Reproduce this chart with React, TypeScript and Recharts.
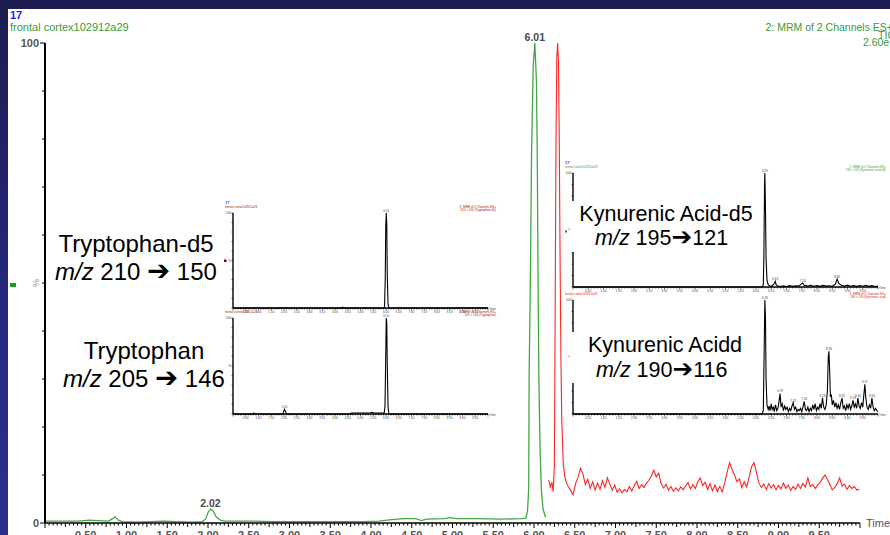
import { LineChart, Line, XAxis, YAxis, ReferenceDot } from "recharts";

type Pt = [number, number];

// main TIC, channel shown in green: time (min), % of base peak
const ticGreen: Pt[] = [
  [0, 0.4], [0.2, 0.4], [0.4, 0.4], [0.55, 0.6], [0.65, 0.5],
  [0.78, 0.4], [0.83, 0.9], [0.86, 1.3], [0.9, 0.6], [0.95, 0.3],
  [1.1, 0.2], [1.3, 0.3], [1.45, 0.4], [1.6, 0.3], [1.8, 0.2],
  [1.93, 0.3], [1.97, 0.8], [2.0, 2.2], [2.03, 2.9], [2.06, 2.6],
  [2.1, 1.3], [2.15, 0.6], [2.2, 0.4], [2.5, 0.4], [2.8, 0.3],
  [3.2, 0.3], [3.6, 0.3], [3.9, 0.3], [4.1, 0.4], [4.25, 0.7],
  [4.4, 0.9], [4.55, 0.9], [4.62, 0.5], [4.68, 0.8], [4.9, 0.9],
  [4.97, 1.1], [5.05, 0.9], [5.3, 0.9], [5.6, 0.8], [5.85, 0.9],
  [5.9, 1.0], [5.92, 2.5], [5.935, 7], [5.94, 30], [5.955, 50],
  [5.97, 77], [5.99, 95], [6.01, 100], [6.03, 92], [6.04, 77],
  [6.05, 50], [6.06, 30], [6.075, 15], [6.09, 7], [6.11, 3], [6.14, 1.2],
];

// red channel, kynurenic acid peak
const ticRedPeak: Pt[] = [
  [6.18, 9], [6.2, 7.5], [6.22, 8.5], [6.235, 6.5], [6.25, 12],
  [6.26, 45], [6.27, 80], [6.28, 97], [6.29, 100], [6.3, 96],
  [6.31, 80], [6.32, 55], [6.33, 35], [6.34, 22], [6.36, 12],
  [6.38, 9.5], [6.4, 8.3],
];

// red baseline after the peak, one reading per scan
const redScanStart = 6.42;
const redScanStep = 0.03;
const ticRedTail = [
  7.6, 6.8, 5.9, 8.2, 9.5, 11.4, 10.2, 8.0, 9.1, 7.2,
  8.6, 6.9, 8.3, 7.0, 8.8, 7.4, 9.4, 8.1, 6.8, 7.9,
  6.4, 7.1, 6.3, 7.0, 6.5, 7.6, 6.6, 7.8, 8.7, 7.2,
  8.0, 7.4, 8.3, 8.9, 9.8, 11.0, 9.6, 10.4, 8.2, 7.3,
  8.1, 6.8, 7.6, 6.6, 7.3, 6.7, 7.5, 6.9, 7.7, 8.4,
  7.1, 8.0, 7.2, 8.6, 9.4, 7.8, 8.5, 7.0, 8.2, 6.7,
  7.9, 6.5, 7.6, 6.5, 8.4, 10.6, 12.6, 11.2, 10.0, 8.6,
  9.2, 7.4, 8.6, 7.5, 9.6, 11.8, 12.6, 10.5, 8.3, 7.4,
  8.1, 7.0, 8.2, 7.3, 8.0, 6.9, 7.8, 7.1, 8.3, 7.2,
  7.9, 6.8, 7.6, 7.0, 8.1, 7.2, 8.2, 7.5, 9.4, 7.6,
  8.0, 7.2, 7.9, 8.4, 9.3, 10.0, 9.1, 8.0, 6.9, 7.4,
  8.2, 9.4, 7.7, 8.1, 7.0, 7.8, 7.2, 7.6, 6.9, 7.0,
];

// inset chromatograms
const trpD5: Pt[] = [
  [0, 0], [4.25, 0], [4.3, 0.8], [4.35, 0], [5.94, 0], [5.97, 30],
  [5.99, 85], [6.01, 100], [6.03, 88], [6.05, 35], [6.08, 4], [6.11, 0], [10, 0],
];
const trp: Pt[] = [
  [0, 0], [0.78, 0], [0.82, 1], [0.86, 0], [1.95, 0], [1.99, 3], [2.02, 5],
  [2.05, 3], [2.1, 0], [4.6, 0], [4.65, 1], [5.4, 1], [5.45, 1.8], [5.5, 1],
  [5.93, 1], [5.96, 8], [5.99, 60], [6.01, 100], [6.03, 95], [6.05, 50],
  [6.08, 8], [6.11, 0], [10, 0],
];
const kynD5: Pt[] = [
  [0, 0], [6.2, 0], [6.24, 2], [6.26, 30], [6.28, 90], [6.29, 100], [6.31, 70],
  [6.33, 25], [6.36, 6], [6.4, 2], [6.45, 1], [6.5, 0.5], [6.55, 1.5], [6.6, 3],
  [6.63, 5], [6.66, 2], [6.7, 1], [6.8, 0.5], [6.9, 1], [7.0, 0.5], [7.1, 1.2],
  [7.2, 0.6], [7.3, 1], [7.4, 0.8], [7.48, 2.5], [7.53, 3.5], [7.58, 1.5],
  [7.7, 0.8], [7.8, 1.5], [7.9, 0.7], [8.0, 1.2], [8.1, 0.6], [8.2, 1.4],
  [8.3, 0.8], [8.4, 1.1], [8.5, 0.6], [8.6, 2.5], [8.66, 7], [8.72, 3],
  [8.8, 1.5], [8.9, 0.8], [9.0, 1.6], [9.1, 0.7], [9.2, 1.2], [9.3, 0.6],
  [9.4, 1.3], [9.5, 0.7], [9.6, 1.5], [9.7, 0.6], [9.8, 1.2], [9.9, 0.5], [10, 0.8],
];
const kyn: Pt[] = [
  [0, 0], [6.2, 0], [6.24, 3], [6.27, 60], [6.29, 100], [6.31, 85], [6.33, 30],
  [6.36, 8], [6.4, 4], [6.43, 7], [6.46, 3], [6.5, 9], [6.53, 4], [6.57, 6],
  [6.6, 2], [6.64, 8], [6.68, 3], [6.72, 5], [6.76, 12], [6.79, 18], [6.82, 6],
  [6.86, 9], [6.9, 3], [6.94, 7], [6.98, 4], [7.02, 6], [7.06, 2], [7.1, 5],
  [7.14, 3], [7.18, 7], [7.22, 10], [7.26, 4], [7.3, 6], [7.34, 2], [7.38, 4],
  [7.42, 3], [7.46, 5], [7.5, 2], [7.54, 6], [7.58, 11], [7.62, 4], [7.66, 3],
  [7.7, 6], [7.74, 2], [7.78, 5], [7.82, 3], [7.86, 8], [7.9, 4], [7.94, 9],
  [7.98, 3], [8.02, 6], [8.06, 4], [8.1, 9], [8.14, 5], [8.18, 14], [8.22, 6],
  [8.26, 4], [8.3, 8], [8.34, 20], [8.37, 50], [8.39, 55], [8.41, 42], [8.44, 15],
  [8.47, 17], [8.5, 8], [8.54, 12], [8.58, 6], [8.62, 10], [8.66, 5], [8.7, 8],
  [8.74, 4], [8.78, 10], [8.82, 14], [8.86, 5], [8.9, 7], [8.94, 3], [8.98, 8],
  [9.02, 5], [9.06, 9], [9.1, 4], [9.14, 7], [9.18, 12], [9.22, 6], [9.26, 9],
  [9.3, 5], [9.34, 14], [9.38, 7], [9.42, 5], [9.46, 10], [9.5, 6], [9.54, 18],
  [9.57, 26], [9.6, 14], [9.64, 6], [9.68, 4], [9.72, 8], [9.76, 5], [9.8, 14],
  [9.84, 6], [9.88, 3], [9.92, 5], [9.96, 3], [10, 2],
];

// labelled apexes (time, %)
const mainPeaks: Pt[] = [[6.01, 100], [2.03, 2.9]];
const mainPeakText = ["6.01", "2.02"];
const trpD5Peaks: Pt[] = [[6.01, 100]];
const trpPeaks: Pt[] = [[6.01, 100], [2.02, 5]];
const kynD5Peaks: Pt[] = [[6.29, 100], [6.63, 5], [7.53, 3.5], [8.66, 7]];
const kynPeaks: Pt[] = [
  [6.29, 100], [6.79, 18], [7.22, 10], [7.58, 11], [8.18, 14], [8.39, 55],
  [8.82, 14], [9.18, 12], [9.34, 14], [9.57, 26], [9.8, 14],
];

const mainXTicks = Array.from({ length: 201 }, (_, i) => i / 20);
const insetXTicks = Array.from({ length: 101 }, (_, i) => i / 10);
const yTicks = [0, 10, 20, 30, 40, 50, 60, 70, 80, 90, 100];

const toRows = (pts: Pt[]) => pts.map(([t, v]) => ({ t, v }));
const greenRows = toRows(ticGreen);
const redRows = [
  ...toRows(ticRedPeak),
  ...ticRedTail.map((v, i) => ({ t: Math.round((redScanStart + i * redScanStep) * 1000) / 1000, v })),
];

const FONT = "'Liberation Sans', Arial, sans-serif";
const GREEN = "#43a843";
const RED = "#ff2626";
const AXIS_TXT = "#555";

const renderMainXTick = (p: any) => {
  const { x, y, payload } = p;
  const k = Math.round(payload.value * 20);
  const len = k % 10 === 0 ? 5 : k % 5 === 0 ? 4 : 2.5;
  return (
    <g>
      <line x1={x} x2={x} y1={y} y2={y + len} stroke="#000" strokeWidth={1} />
      {k % 10 === 0 && k > 0 && k < 200 && (
        <text x={x} y={y + 16} textAnchor="middle" fontSize={11} fontWeight="bold" fill={AXIS_TXT}>
          {(k / 20).toFixed(2)}
        </text>
      )}
    </g>
  );
};

const renderMainYTick = (p: any) => {
  const { x, y, payload } = p;
  const v = payload.value;
  const end = v === 0 || v === 100;
  return (
    <g>
      <line x1={x - (end ? 5 : 3)} x2={x} y1={y} y2={y} stroke="#000" strokeWidth={1} />
      {end && (
        <text x={x - 6} y={y + 4} textAnchor="end" fontSize={11} fontWeight="bold" fill={AXIS_TXT}>
          {v}
        </text>
      )}
      {v === 50 && (
        <text transform={`translate(${x - 6},${y}) rotate(-90)`} textAnchor="middle" fontSize={9} fill="#888">
          %
        </text>
      )}
    </g>
  );
};

const renderInsetXTick = (p: any) => {
  const { x, y, payload } = p;
  const k = Math.round(payload.value * 10);
  const major = k % 5 === 0;
  return (
    <g>
      <line x1={x} x2={x} y1={y} y2={y + (major ? 2.5 : 1.5)} stroke="#000" strokeWidth={0.6} />
      {major && k > 0 && k < 100 && (
        <text x={x} y={y + 4.8} textAnchor="middle" fontSize={3} fill="#444">
          {(k / 10).toFixed(2)}
        </text>
      )}
    </g>
  );
};

const renderInsetYTick = (p: any) => {
  const { x, y, payload } = p;
  const v = payload.value;
  return (
    <g>
      <line x1={x - 1.5} x2={x} y1={y} y2={y} stroke="#000" strokeWidth={0.6} />
      {v === 100 && (
        <text x={x - 2} y={y + 1} textAnchor="end" fontSize={3.2} fill="#444">100</text>
      )}
      {v === 50 && (
        <text x={x - 2} y={y + 1} textAnchor="end" fontSize={3.2} fill="#444">%</text>
      )}
    </g>
  );
};

type Box = { x: number; y: number; w: number; h: number };

const boxes: Record<string, Box> = {
  trpD5: { x: 233, y: 213, w: 255, h: 95 },
  trp: { x: 233, y: 318, w: 255, h: 96 },
  kynD5: { x: 573, y: 173, w: 305, h: 114 },
  kyn: { x: 573, y: 300, w: 305, h: 114 },
};

function Inset({ box, data, peaks }: { box: Box; data: Pt[]; peaks: Pt[] }) {
  const padL = 10;
  const padT = 6;
  const padR = 4;
  const axisH = 8;
  return (
    <div style={{ position: "absolute", left: box.x - padL, top: box.y - padT }}>
      <LineChart
        width={box.w + padL + padR}
        height={box.h + padT + axisH}
        margin={{ top: padT, right: padR, bottom: 0, left: 0 }}
      >
        <XAxis
          type="number"
          dataKey="t"
          domain={[0, 10]}
          ticks={insetXTicks}
          interval={0}
          height={axisH}
          tickSize={0}
          tickMargin={0}
          tickLine={false}
          axisLine={{ stroke: "#000", strokeWidth: 1.4 }}
          tick={renderInsetXTick}
        />
        <YAxis
          type="number"
          domain={[0, 100]}
          ticks={yTicks}
          interval={0}
          width={padL}
          tickSize={0}
          tickMargin={0}
          tickLine={false}
          axisLine={{ stroke: "#000", strokeWidth: 1.4 }}
          tick={renderInsetYTick}
        />
        <Line
          data={toRows(data)}
          dataKey="v"
          type="linear"
          stroke="#000"
          strokeWidth={1.1}
          dot={false}
          isAnimationActive={false}
        />
        {peaks.map(([t, v]) => (
          <ReferenceDot
            key={t}
            x={t}
            y={v}
            r={0.5}
            fill="none"
            stroke="none"
            label={{ value: t.toFixed(2), position: "top", offset: 0.5, fontSize: 3, fill: "#444" }}
          />
        ))}
      </LineChart>
    </div>
  );
}

function InsetHeader({ box, color, left, right, blue }: { box: Box; color: string; left: string; right: string[]; blue?: boolean }) {
  const y0 = box.y - 5;
  return (
    <g>
      {blue && (
        <text x={box.x - 8} y={y0 - 4} fontSize={4} fontWeight="bold" fill="#3030ff">17</text>
      )}
      <text x={box.x - 8} y={y0} fontSize={3} fill={color}>{left}</text>
      {right.map((s, i) => (
        <text key={s} x={box.x + box.w + 8} y={y0 + i * 3} fontSize={3} fill={color} textAnchor="end">
          {s}
        </text>
      ))}
      <text x={box.x + box.w + 1} y={box.y + box.h + 1.5} fontSize={3} fill="#444">Time</text>
    </g>
  );
}

function Mz({ x, y, size, from, to, gap }: { x: number; y: number; size: number; from: string; to: string; gap: string }) {
  return (
    <text x={x} y={y} fontSize={size} fill="#000">
      <tspan fontStyle="italic">m/z</tspan>
      <tspan>{` ${from}${gap}`}</tspan>
      <tspan fontFamily="'DejaVu Sans'" fontSize={size * 1.15}>➔</tspan>
      <tspan>{`${gap}${to}`}</tspan>
    </text>
  );
}

export default function App() {
  return (
    <div
      style={{
        position: "absolute",
        left: 0,
        top: 0,
        width: 890,
        height: 535,
        overflow: "hidden",
        background: "linear-gradient(180deg, #1c1c50 0%, #262880 60%, #2c2f8e 100%)",
        fontFamily: FONT,
      }}
    >
      <div style={{ position: "absolute", left: 8, top: 9, width: 882, height: 526, background: "#fff" }} />

      <div style={{ position: "absolute", left: 0, top: 0 }}>
        <LineChart width={890} height={560} margin={{ top: 43, right: 30, bottom: 7, left: 0 }}>
          <XAxis
            type="number"
            dataKey="t"
            domain={[0, 10]}
            ticks={mainXTicks}
            interval={0}
            height={30}
            tickSize={0}
            tickMargin={0}
            tickLine={false}
            axisLine={{ stroke: "#000", strokeWidth: 1.5 }}
            tick={renderMainXTick}
          />
          <YAxis
            type="number"
            domain={[0, 100]}
            ticks={yTicks}
            interval={0}
            width={45}
            tickSize={0}
            tickMargin={0}
            tickLine={false}
            axisLine={{ stroke: "#000", strokeWidth: 2 }}
            tick={renderMainYTick}
          />
          <Line data={greenRows} dataKey="v" type="linear" stroke={GREEN} strokeWidth={1.3} dot={false} isAnimationActive={false} />
          <Line data={redRows} dataKey="v" type="linear" stroke={RED} strokeWidth={1.1} dot={false} isAnimationActive={false} />
          {mainPeaks.map(([t, v], i) => (
            <ReferenceDot
              key={t}
              x={t}
              y={v}
              r={0.5}
              fill="none"
              stroke="none"
              label={{ value: mainPeakText[i], position: "top", offset: 1.5, fontSize: 10.5, fontWeight: "bold", fill: "#4a4a4a" }}
            />
          ))}
        </LineChart>
      </div>

      <Inset box={boxes.trpD5} data={trpD5} peaks={trpD5Peaks} />
      <Inset box={boxes.trp} data={trp} peaks={trpPeaks} />
      <Inset box={boxes.kynD5} data={kynD5} peaks={kynD5Peaks} />
      <Inset box={boxes.kyn} data={kyn} peaks={kynPeaks} />

      <svg width={890} height={535} style={{ position: "absolute", left: 0, top: 0, pointerEvents: "none" }}>
        <text x={10} y={18.5} fontSize={11} fontWeight="bold" fill="#1a1aff">17</text>
        <text x={10} y={30.5} fontSize={11} fill="#3a9a3a">frontal cortex102912a29</text>
        <g fontSize={10.5} fill="#3a9a3a" textAnchor="end">
          <text x={893} y={30.5}>2: MRM of 2 Channels ES+</text>
          <text x={895} y={38.5}>TIC</text>
          <text x={895} y={46}>2.60e7</text>
        </g>
        <text x={866} y={527} fontSize={11} fill={AXIS_TXT}>Time</text>
        <rect x={10} y={283} width={6} height={4} fill="#1f9a2a" />

        <InsetHeader box={boxes.trpD5} color="#a01818" blue left="frontal cortex102912a29" right={["2: MRM of 2 Channels ES+", "210 > 150 (Tryptophan-d5)"]} />
        <InsetHeader box={boxes.trp} color="#a01818" left="frontal cortex102912a29" right={["2: MRM of 2 Channels ES+", "205 > 146 (Tryptophan)"]} />
        <InsetHeader box={boxes.kynD5} color="#3a9a3a" blue left="frontal cortex102912a29" right={["1: MRM of 2 Channels ES+", "195 > 121 (Kynurenic acid-d5)"]} />
        <InsetHeader box={boxes.kyn} color="#e02020" left="frontal cortex102912a29" right={["1: MRM of 2 Channels ES+", "190 > 116 (Kynurenic acid)"]} />
        <rect x={224} y={259.5} width={2.5} height={2.5} fill="#8b0000" />
        <rect x={565} y={230.5} width={2} height={2} fill="#118a11" />

        <text x={136} y={252} fontSize={24} textAnchor="middle" fill="#000">Tryptophan-d5</text>
        <Mz x={55} y={280} size={24} from="210" to="150" gap=" " />
        <text x={144} y={359} fontSize={24} textAnchor="middle" fill="#000">Tryptophan</text>
        <Mz x={63} y={387} size={24} from="205" to="146" gap=" " />

        <rect x={570} y={201} width={190} height={51} fill="#fff" />
        <text x={666} y={221} fontSize={21.5} textAnchor="middle" fill="#000">Kynurenic Acid-d5</text>
        <Mz x={595} y={245} size={21.5} from="195" to="121" gap="" />
        <rect x={570} y={332} width={190} height={51} fill="#fff" />
        <text x={665} y={352} fontSize={21.5} textAnchor="middle" fill="#000">Kynurenic Acidd</text>
        <Mz x={596} y={377} size={21.5} from="190" to="116" gap="" />
      </svg>
    </div>
  );
}
